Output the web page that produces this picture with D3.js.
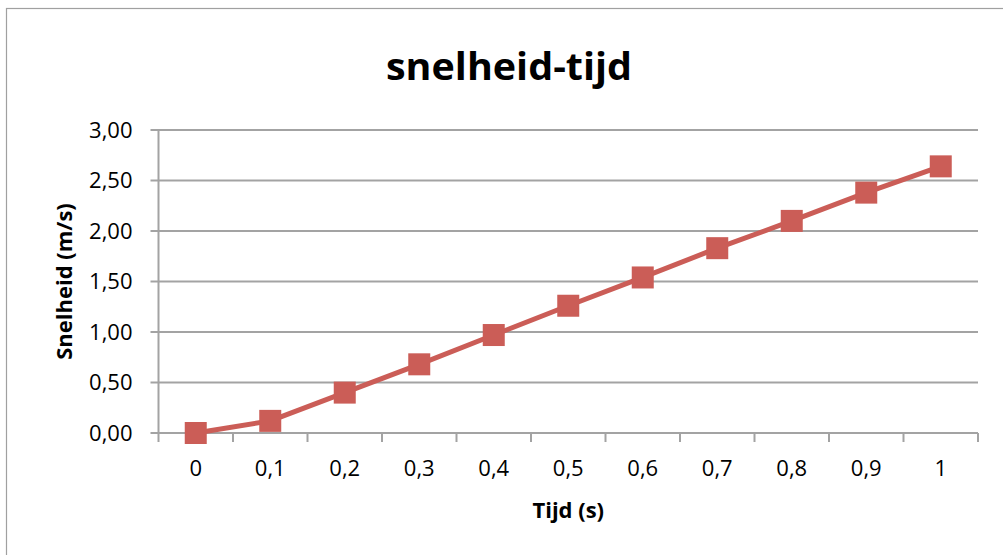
<!DOCTYPE html>
<html>
<head>
<meta charset="utf-8">
<script src="https://cdn.jsdelivr.net/npm/d3@7"></script>
<style>
  body { margin: 0; background: #fff; }
  text { font-family: "Open Sans", sans-serif; fill: #000; }
</style>
</head>
<body>
<div id="chart"></div>
<script>
const tijd = ['0', '0,1', '0,2', '0,3', '0,4', '0,5', '0,6', '0,7', '0,8', '0,9', '1'];
const snelheid = [0.00, 0.12, 0.40, 0.68, 0.97, 1.26, 1.54, 1.83, 2.10, 2.38, 2.64];
const yTicks = [0, 0.5, 1, 1.5, 2, 2.5, 3];

const titleText = 'snelheid-tijd';
const xTitle = 'Tijd (s)';
const yTitle = 'Snelheid (m/s)';

const width = 1003, height = 555;
const margin = {top: 130, right: 25, bottom: 122, left: 158.5};
const color = '#cb5d57';
const gridColor = '#a3a3a3';

const nl = d3.formatLocale({decimal: ',', thousands: '.', grouping: [3], currency: ['€', '']});
const fmt = nl.format('.2f');

const svg = d3.select('#chart')
    .append('svg')
    .attr('width', width)
    .attr('height', height);

// chart border
svg.append('rect')
    .attr('x', 6.5).attr('y', 8.5)
    .attr('width', width + 20).attr('height', height + 20)
    .attr('fill', 'none')
    .attr('stroke', '#a0a0a0')
    .attr('stroke-width', 1.2);

const x = d3.scaleBand()
    .domain(tijd)
    .range([margin.left, width - margin.right]);

const y = d3.scaleLinear()
    .domain([0, 3])
    .range([height - margin.bottom, margin.top]);

// gridlines
svg.append('g').selectAll('line')
    .data(yTicks)
    .enter()
    .append('line')
    .attr('x1', margin.left - 8)
    .attr('x2', width - margin.right)
    .attr('y1', d => y(d))
    .attr('y2', d => y(d))
    .attr('stroke', gridColor)
    .attr('stroke-width', 2);

// y axis line
svg.append('line')
    .attr('x1', margin.left).attr('x2', margin.left)
    .attr('y1', y(3)).attr('y2', y(0))
    .attr('stroke', gridColor)
    .attr('stroke-width', 2);

// y tick labels
svg.append('g').selectAll('text')
    .data(yTicks)
    .enter()
    .append('text')
    .attr('x', margin.left - 26)
    .attr('y', d => y(d))
    .attr('dy', '0.35em')
    .attr('text-anchor', 'end')
    .style('font-size', '22px')
    .text(d => fmt(d));

// x tick marks at category boundaries
const bounds = tijd.map(d => x(d)).concat([x.range()[1]]);
svg.append('g').selectAll('line')
    .data(bounds)
    .enter()
    .append('line')
    .attr('x1', d => d).attr('x2', d => d)
    .attr('y1', y(0)).attr('y2', y(0) + 9)
    .attr('stroke', gridColor)
    .attr('stroke-width', 2);

// x tick labels
svg.append('g').selectAll('text')
    .data(tijd)
    .enter()
    .append('text')
    .attr('x', d => x(d) + x.bandwidth() / 2)
    .attr('y', y(0) + 43)
    .attr('text-anchor', 'middle')
    .style('font-size', '22px')
    .text(d => d);

// line + markers
const line = d3.line()
    .x((d, i) => x(tijd[i]) + x.bandwidth() / 2)
    .y(d => y(d));

svg.append('path')
    .datum(snelheid)
    .attr('d', line)
    .attr('fill', 'none')
    .attr('stroke', color)
    .attr('stroke-width', 5)
    .attr('stroke-linejoin', 'round');

const ms = 22;
svg.append('g').selectAll('rect')
    .data(snelheid)
    .enter()
    .append('rect')
    .attr('x', (d, i) => x(tijd[i]) + x.bandwidth() / 2 - ms / 2)
    .attr('y', d => y(d) - ms / 2)
    .attr('width', ms)
    .attr('height', ms)
    .attr('fill', color);

// titles
svg.append('text')
    .attr('x', 509)
    .attr('y', 80)
    .attr('text-anchor', 'middle')
    .attr('textLength', 246)
    .attr('lengthAdjust', 'spacingAndGlyphs')
    .style('font-size', '37px')
    .style('font-weight', 'bold')
    .text(titleText);

svg.append('text')
    .attr('x', (x.range()[0] + x.range()[1]) / 2)
    .attr('y', 518)
    .attr('text-anchor', 'middle')
    .style('font-size', '22px')
    .style('font-weight', 'bold')
    .text(xTitle);

svg.append('text')
    .attr('transform', `translate(72,${(y(0) + y(3)) / 2}) rotate(-90)`)
    .attr('text-anchor', 'middle')
    .style('font-size', '22px')
    .style('font-weight', 'bold')
    .text(yTitle);
</script>
</body>
</html>
